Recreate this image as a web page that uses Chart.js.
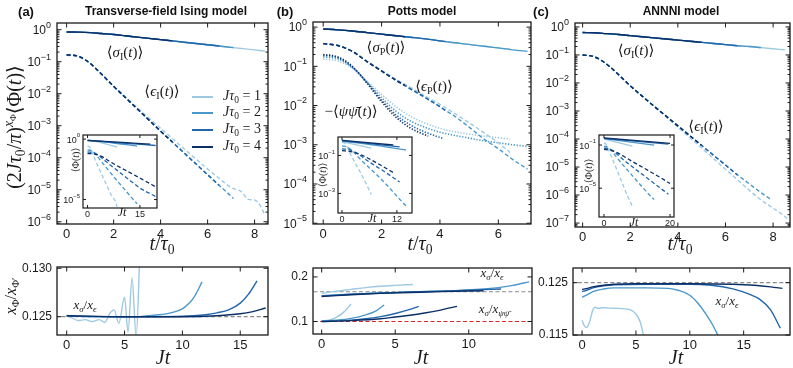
<!DOCTYPE html>
<html>
<head>
<meta charset="utf-8">
<script src="https://cdn.jsdelivr.net/npm/chart.js@4.4.1/dist/chart.umd.min.js"></script>
<style>
  body { margin: 0; background: #fff; }
  #fig { position: relative; width: 793px; height: 368px; overflow: hidden; font-family: "Liberation Sans", Arial, sans-serif; }
  .pane { position: absolute; }
  .pane canvas { display: block; }
  .tx { position: absolute; transform: translate(-50%, -50%); white-space: nowrap; font-family: "Liberation Serif", "DejaVu Serif", serif; color: #1a1a1a; line-height: 1; }
  .tx sub { font-size: 68%; vertical-align: -0.3em; }
  .tx sup { font-size: 68%; vertical-align: 0.55em; }
  .hd { position: absolute; transform: translate(-50%, -50%); white-space: nowrap; font-weight: bold; color: #111; }
  .lg { position: absolute; height: 2px; }
</style>
</head>
<body>
<div id="fig"></div>
<script>
// colours for J tau0 = 1, 2, 3, 4
const blues = ["#9ecae1", "#4a98cb", "#2166ac", "#0b2f66"];
const legendVals = [1, 2, 3, 4];

// ---------- (a) transverse-field Ising: log10 values against t/tau0 ----------
const sigA = [[0,-0.07],[0.5,-0.075],[1,-0.09],[1.5,-0.12],[2,-0.15],[2.5,-0.19],[3,-0.23],[3.5,-0.27],[4,-0.31],[4.5,-0.35],[5,-0.39],[5.5,-0.43],[6,-0.47],[6.5,-0.51],[7,-0.55],[7.1,-0.56],[7.5,-0.59],[8,-0.63],[8.45,-0.67]];
const sigEndA = [8.45, 7.1, 6.5, 4.5];
const epsA = [[0,-0.78],[0.5,-0.83],[1,-1.05],[1.5,-1.4],[2,-1.77],[2.5,-2.12],[3,-2.47],[3.5,-2.82],[4,-3.17],[4.5,-3.51],[5,-3.85],[5.5,-4.19],[6,-4.53],[6.5,-4.87],[7,-5.2],[7.1,-5.27]];
const epsEndA = [0, 7.1, 6.5, 4.5];
const epsA1 = [[0,-0.8],[0.5,-0.85],[1,-1.06],[1.5,-1.4],[2,-1.76],[2.5,-2.1],[3,-2.43],[3.5,-2.76],[4,-3.08],[4.5,-3.4],[5,-3.72],[5.5,-4.04],[6,-4.35],[6.5,-4.65],[7,-4.93],[7.45,-5.07],[7.73,-5.3],[8,-5.32],[8.2,-5.45],[8.45,-5.8]];
// inset (a): against Jt, unscaled
const sigInA = [
  [[0,-0.07],[4,-0.31],[8.45,-0.66]],
  [[0,-0.08],[7,-0.3],[14.2,-0.58]],
  [[0,-0.1],[10,-0.33],[19.5,-0.53]],
  [[0,-0.12],[10,-0.27],[18,-0.42]]
];
const epsInA = [
  [[0,-0.58],[0.5,-0.63],[1,-0.85],[1.5,-1.2],[2,-1.57],[3,-2.23],[4,-2.88],[5,-3.52],[6,-4.15],[7,-4.73],[8,-5.15],[8.45,-5.6]],
  [[0,-0.89],[1,-0.94],[2,-1.13],[3,-1.49],[4,-1.87],[6,-2.58],[8,-3.28],[10,-3.96],[12,-4.64],[14.2,-5.35]],
  [[0,-1.06],[1.5,-1.11],[3,-1.3],[4.5,-1.66],[6,-2.02],[9,-2.7],[12,-3.38],[15,-4.05],[19.5,-4.75]],
  [[0,-1.19],[2,-1.24],[4,-1.43],[6,-1.79],[8,-2.13],[12,-2.75],[16,-3.38],[19.5,-3.95]]
];
// bottom (a): exponent ratio against Jt
const ratioA = [
  [[0,0.1252],[0.4,0.1249],[1,0.1246],[1.6,0.1247],[2.2,0.1245],[2.8,0.1247],[3.3,0.1244],[3.7,0.1253],[4.1,0.1257],[4.5,0.1243],[5,0.127],[5.3,0.1234],[5.65,0.129],[6,0.1229],[6.35,0.1325]],
  [[0,0.1251],[2,0.125],[4,0.125],[6,0.125],[7,0.1251],[8,0.1252],[9,0.1254],[10,0.1258],[10.5,0.1263],[11,0.127],[11.7,0.1286]],
  [[0,0.1251],[4,0.125],[8,0.125],[11,0.1251],[12,0.1252],[13,0.1254],[14,0.1257],[15,0.1264],[15.7,0.1273],[16.45,0.1287]],
  [[0,0.1251],[5,0.125],[10,0.125],[13,0.1251],[15,0.1253],[16,0.1255],[17.2,0.1259]]
];
const refA = 0.125;

// ---------- (b) Potts ----------
const sigB = [[0,-0.05],[0.5,-0.07],[1,-0.1],[1.5,-0.14],[2,-0.18],[2.5,-0.22],[2.8,-0.245],[3,-0.26],[3.5,-0.3],[4,-0.35],[4.2,-0.37],[4.5,-0.4],[5,-0.44],[5.5,-0.49],[6,-0.53],[6.4,-0.57],[6.5,-0.58],[7,-0.62]];
const sigEndB = [6.4, 7, 4.2, 2.8];
const epsB = [[0,-0.42],[0.5,-0.47],[1,-0.62],[1.5,-0.88],[2,-1.12],[2.5,-1.36],[2.8,-1.49],[3,-1.58],[3.5,-1.8],[4,-2.03],[4.2,-2.13],[4.5,-2.27],[5,-2.55],[5.5,-2.85],[6,-3.1],[6.5,-3.38],[7,-3.62]];
const epsEndB = [0, 7, 4.2, 2.8];
const epsB1 = [[0,-0.42],[0.5,-0.47],[1,-0.62],[1.5,-0.87],[2,-1.1],[2.5,-1.33],[3,-1.54],[3.5,-1.76],[4,-1.97],[4.5,-2.2],[5,-2.44],[5.5,-2.69],[6,-2.95],[6.4,-3.2]];
const psiB = [
  [[0,-0.82],[0.5,-0.86],[1,-1.05],[1.5,-1.38],[2,-1.72],[2.5,-2.03],[3,-2.28],[3.5,-2.45],[4,-2.58],[4.5,-2.67],[5,-2.73],[5.5,-2.78],[6,-2.82],[6.4,-2.85]],
  [[0,-0.76],[0.5,-0.81],[1,-1.03],[1.5,-1.4],[2,-1.8],[2.5,-2.15],[3,-2.4],[3.5,-2.56],[4,-2.68],[4.5,-2.76],[5,-2.83],[5.5,-2.9],[6,-2.95],[6.5,-3],[7,-3.04]],
  [[0,-0.72],[0.5,-0.78],[1,-1.02],[1.5,-1.42],[2,-1.86],[2.5,-2.24],[3,-2.5],[3.5,-2.68],[4.1,-2.84]],
  [[0,-0.7],[0.5,-0.76],[1,-1],[1.5,-1.43],[2,-1.9],[2.5,-2.3],[3,-2.58],[3.6,-2.78]]
];
const sigInB = [
  [[0,-0.27],[6.4,-0.62]],
  [[0,-0.25],[7,-0.46],[14,-0.72]],
  [[0,-0.22],[12.6,-0.55]],
  [[0,-0.2],[11.2,-0.45]]
];
const epsInB = [
  [[0,-0.3],[0.5,-0.35],[1,-0.5],[2,-1],[3,-1.45],[4,-1.88],[5,-2.35],[6.4,-3.05]],
  [[0,-0.5],[1,-0.55],[2,-0.7],[4,-1.2],[6,-1.66],[8,-2.11],[10,-2.61],[12,-3.15],[14,-3.66]],
  [[0,-0.65],[1.5,-0.7],[3,-0.85],[6,-1.35],[9,-1.81],[12.6,-2.4]],
  [[0,-0.75],[2,-0.8],[4,-0.95],[8,-1.45],[11.2,-1.9]]
];
const ratioEpsB = [
  [[0,0.163],[1,0.168],[2,0.172],[3,0.176],[4,0.179],[5,0.181],[6.2,0.183]],
  [[0,0.158],[2,0.161],[4,0.164],[6,0.166],[8,0.168],[10,0.171],[12,0.176],[13,0.181],[14.1,0.189]],
  [[0,0.157],[2,0.161],[4,0.164],[6,0.166],[8,0.168],[10,0.17],[12.2,0.173]],
  [[0,0.156],[2,0.16],[4,0.163],[6,0.165],[8,0.167],[11,0.169]]
];
const ratioPsiB = [
  [[0,0.101],[0.5,0.103],[1,0.109],[1.5,0.121],[2,0.139]],
  [[0,0.101],[1,0.103],[2,0.107],[3,0.115],[3.7,0.124],[4.25,0.137]],
  [[0,0.1],[2,0.103],[3,0.106],[4,0.111],[5,0.118],[6,0.127],[6.6,0.134]],
  [[0,0.1],[2,0.102],[4,0.106],[5,0.11],[6,0.114],[7,0.119],[8,0.125],[9.2,0.134]]
];
const refEpsB = 1 / 6;
const refPsiB = 0.1;

// ---------- (c) ANNNI ----------
const sigC = [[0,-0.2],[0.5,-0.21],[1,-0.24],[1.5,-0.27],[2,-0.31],[2.5,-0.35],[3,-0.39],[3.5,-0.43],[4,-0.47],[4.5,-0.51],[5,-0.55],[5.5,-0.59],[6,-0.63],[6.5,-0.67],[7,-0.7],[7.5,-0.74],[8,-0.78],[8.5,-0.82]];
const sigEndC = [8.5, 7.5, 6.5, 5];
const epsC = [[0,-1],[0.5,-1.07],[1,-1.32],[1.5,-1.7],[2,-2.1],[2.5,-2.47],[3,-2.83],[3.5,-3.18],[4,-3.53],[4.5,-3.88],[5,-4.23],[5.5,-4.58],[6,-4.93],[6.5,-5.28],[7,-5.6],[7.5,-5.92],[7.9,-6.15]];
const epsEndC = [0, 7.9, 6.5, 5];
const epsC1 = [[0,-1],[0.5,-1.07],[1,-1.32],[1.5,-1.7],[2,-2.1],[2.5,-2.47],[3,-2.84],[3.5,-3.2],[4,-3.58],[4.5,-3.95],[5,-4.32],[5.5,-4.7],[6,-5.08],[6.5,-5.45],[7,-5.83],[7.5,-6.18],[8,-6.47],[8.4,-6.7],[8.65,-6.88]];
const sigInC = [
  [[0,-0.45],[8.6,-1.1]],
  [[0,-0.4],[15.2,-1]],
  [[0,-0.38],[19.5,-0.92]],
  [[0,-0.35],[20,-0.85]]
];
const epsInC = [
  [[0,-0.8],[0.5,-0.88],[1,-1.12],[2,-1.9],[3,-2.63],[4,-3.38],[5,-4.12],[6,-4.88],[7,-5.64],[8.5,-6.6]],
  [[0,-1.1],[1,-1.17],[2,-1.42],[4,-2.2],[6,-2.93],[8,-3.63],[10,-4.33],[12,-5.03],[14,-5.7],[15.2,-6.05]],
  [[0,-1.28],[1.5,-1.35],[3,-1.6],[6,-2.39],[9,-3.11],[12,-3.81],[15,-4.51],[19.5,-5.56]],
  [[0,-1.41],[2,-1.48],[4,-1.7],[8,-2.42],[12,-3.12],[16,-3.82],[20,-4.56]]
];
const ratioC = [
  [[0,0.1178],[0.2,0.1168],[0.4,0.1164],[0.7,0.1175],[1,0.1198],[1.2,0.1203],[1.5,0.1201],[2,0.1202],[3,0.1201],[4,0.12],[4.5,0.1198],[5,0.119],[5.4,0.1175],[5.7,0.115]],
  [[0,0.1222],[0.5,0.1227],[1,0.1233],[2,0.1238],[3,0.124],[6,0.124],[8,0.1239],[9,0.1235],[10,0.1226],[10.7,0.1212],[11.5,0.119],[12.1,0.117],[12.6,0.115]],
  [[0,0.1233],[0.5,0.1236],[1,0.124],[2,0.1244],[3,0.1246],[6,0.1247],[10,0.1247],[12,0.1245],[14,0.1238],[15.5,0.1228],[16.5,0.1218],[17.5,0.1198],[18.4,0.1163]],
  [[0,0.1237],[0.5,0.1239],[1,0.1242],[2,0.1245],[3,0.1247],[5,0.1248],[10,0.1248],[14,0.1247],[16,0.1245],[17.5,0.1242],[18.6,0.1239]]
];
const refC = 0.125;

// tick positions
const xTicksMainA = [0, 2, 4, 6, 8];
const xTicksMainB = [0, 2, 4, 6];
const xTicksMainC = [0, 2, 4, 6, 8];
const decA = [0, -1, -2, -3, -4, -5, -6];
const decB = [0, -1, -2, -3, -4, -5];
const decC = [0, -1, -2, -3, -4, -5, -6, -7];
const xTicksBotA = [0, 5, 10, 15];
const xTicksBotB = [0, 5, 10];
const xTicksBotC = [0, 5, 10, 15];
const yTicksBotA = [0.125, 0.13];
const yTicksBotB = [0.1, 0.2];
const yTicksBotC = [0.115, 0.125];

const tickFont = '"Liberation Sans Narrow", "Liberation Sans", Arial, sans-serif';
const pad = { left: 46, top: 6, right: 6, bottom: 26 };
const fig = document.getElementById("fig");

// frame, inward ticks on four sides and tick labels
const framePlugin = {
  id: "frame",
  beforeDraw(chart, args, o) {
    if (!o.bg) return;
    const a = chart.chartArea, c = chart.ctx;
    c.save();
    c.fillStyle = "#fff";
    c.fillRect(a.left, a.top, a.right - a.left, a.bottom - a.top);
    c.restore();
  },
  afterDraw(chart, args, o) {
    const a = chart.chartArea, c = chart.ctx, sx = chart.scales.x, sy = chart.scales.y;
    const L = o.tick, Lm = o.tick * 0.55;
    const yv = o.log ? o.yTicks.map(e => Math.pow(10, e)) : o.yTicks;
    c.save();
    c.strokeStyle = "#1a1a1a";
    c.lineWidth = 1;
    c.beginPath();
    o.xTicks.forEach(v => {
      const p = sx.getPixelForValue(v);
      c.moveTo(p, a.bottom); c.lineTo(p, a.bottom - L);
      c.moveTo(p, a.top); c.lineTo(p, a.top + L);
    });
    yv.forEach(v => {
      const p = sy.getPixelForValue(v);
      c.moveTo(a.left, p); c.lineTo(a.left + L, p);
      c.moveTo(a.right, p); c.lineTo(a.right - L, p);
    });
    if (o.log && o.minor) {
      for (let e = Math.floor(Math.log10(sy.min)); e < Math.log10(sy.max); e++) {
        for (let k = 2; k < 10; k++) {
          const v = k * Math.pow(10, e);
          if (v < sy.min || v > sy.max) continue;
          const p = sy.getPixelForValue(v);
          c.moveTo(a.left, p); c.lineTo(a.left + Lm, p);
          c.moveTo(a.right, p); c.lineTo(a.right - Lm, p);
        }
      }
    }
    c.stroke();
    c.lineWidth = o.lw;
    c.strokeRect(a.left, a.top, a.right - a.left, a.bottom - a.top);

    c.fillStyle = "#1a1a1a";
    c.font = o.fx + "px " + tickFont;
    c.textAlign = "center";
    c.textBaseline = "top";
    o.xTicks.forEach((v, i) => {
      const s = o.xLabels ? o.xLabels[i] : String(v);
      if (s) c.fillText(s, sx.getPixelForValue(v), a.bottom + o.gx);
    });
    c.textBaseline = "middle";
    o.yTicks.forEach((e, i) => {
      const p = sy.getPixelForValue(yv[i]);
      const xr = a.left - o.gy;
      if (o.log) {
        const ex = String(e).replace("-", "\u2212");
        const fsup = Math.round(o.fy * 0.72);
        c.font = fsup + "px " + tickFont;
        const w2 = c.measureText(ex).width;
        c.textAlign = "left";
        c.fillText(ex, xr - w2, p - o.fy * 0.38);
        c.font = o.fy + "px " + tickFont;
        c.textAlign = "right";
        c.fillText("10", xr - w2, p + 1);
      } else {
        c.font = o.fy + "px " + tickFont;
        c.textAlign = "right";
        c.fillText(e.toFixed(o.digits), xr, p);
      }
    });
    c.restore();
  }
};

function series(pts, color, style, log, width) {
  return {
    data: pts.map(p => ({ x: p[0], y: log ? Math.pow(10, p[1]) : p[1] })),
    borderColor: color,
    borderWidth: width || (style === "dot" ? 1.6 : 1.4),
    borderDash: style === "dash" ? [4, 2.5] : style === "dot" ? [1.3, 1.6] : [],
    pointRadius: 0,
    cubicInterpolationMode: "monotone",
    fill: false
  };
}

function pane(frame, cfg) {
  const [l, t, r, b] = frame;
  const box = document.createElement("div");
  box.className = "pane";
  box.style.left = (l - pad.left) + "px";
  box.style.top = (t - pad.top) + "px";
  const cv = document.createElement("canvas");
  cv.width = r - l + pad.left + pad.right;
  cv.height = b - t + pad.top + pad.bottom;
  box.appendChild(cv);
  fig.appendChild(box);
  const ymin = cfg.log ? Math.pow(10, cfg.y[0]) : cfg.y[0];
  const ymax = cfg.log ? Math.pow(10, cfg.y[1]) : cfg.y[1];
  return new Chart(cv, {
    type: "line",
    data: { datasets: cfg.sets },
    options: {
      responsive: false,
      animation: false,
      events: [],
      layout: { padding: pad },
      scales: {
        x: { type: "linear", min: cfg.x[0], max: cfg.x[1], display: false },
        y: { type: cfg.log ? "logarithmic" : "linear", min: ymin, max: ymax, display: false }
      },
      plugins: {
        legend: { display: false },
        tooltip: { enabled: false },
        frame: Object.assign({ bg: false, lw: 1.3, tick: 4.5, minor: true, fx: 13, fy: 12, gx: 4, gy: 6, digits: 3 }, cfg.axes)
      }
    },
    plugins: [framePlugin]
  });
}

// build datasets: darkest first so it is drawn on top
function mainSets(sig, sigEnd, eps, epsEnd, eps1, extra) {
  const out = [];
  for (let k = 3; k >= 0; k--) out.push(series(sig.filter(p => p[0] <= sigEnd[k]), blues[k], "solid", true));
  for (let k = 3; k >= 0; k--) out.push(series(k === 0 ? eps1 : eps.filter(p => p[0] <= epsEnd[k]), blues[k], "dash", true));
  if (extra) for (let k = 3; k >= 0; k--) out.push(series(extra[k], blues[k], "dot", true));
  return out;
}
function insetSets(sig, eps) {
  const out = [];
  for (let k = 3; k >= 0; k--) out.push(series(sig[k], blues[k], "solid", true, 1.3));
  for (let k = 3; k >= 0; k--) out.push(series(eps[k], blues[k], "dash", true, 1.3));
  return out;
}
function refLine(v, x0, x1, color) {
  return series([[x0, v], [x1, v]], color, "dash", false, 1.2);
}
function ratioSets(groups, refs) {
  const out = [];
  groups.forEach(g => { for (let k = 3; k >= 0; k--) out.push(series(g[k], blues[k], "solid", false, 1.4)); });
  return out.concat(refs);
}

// main panels
pane([57, 23, 268, 224], { x: [-0.41, 8.57], y: [-6.07, 0.21], log: true,
  sets: mainSets(sigA, sigEndA, epsA, epsEndA, epsA1),
  axes: { xTicks: xTicksMainA, yTicks: decA, log: true } });
pane([313, 22, 531, 224], { x: [-0.35, 7.12], y: [-5.02, 0.13], log: true,
  sets: mainSets(sigB, sigEndB, epsB, epsEndB, epsB1, psiB),
  axes: { xTicks: xTicksMainB, yTicks: decB, log: true } });
pane([575, 23, 790, 227], { x: [-0.32, 8.71], y: [-7.14, 0.14], log: true,
  sets: mainSets(sigC, sigEndC, epsC, epsEndC, epsC1),
  axes: { xTicks: xTicksMainC, yTicks: decC, log: true } });

// insets
const insetAxes = { bg: true, lw: 1.2, tick: 3, minor: false, fx: 9, fy: 9, gx: 2, gy: 3 };
pane([83, 135, 157, 208], { x: [-1.3, 19.9], y: [-5.7, 0.34], log: true,
  sets: insetSets(sigInA, epsInA),
  axes: Object.assign({}, insetAxes, { xTicks: [0, 15], yTicks: [0, -5], log: true }) });
pane([338, 137, 412, 213], { x: [-0.87, 15.3], y: [-4.03, -0.03], log: true,
  sets: insetSets(sigInB, epsInB),
  axes: Object.assign({}, insetAxes, { xTicks: [0, 12], yTicks: [-1, -3], log: true }) });
pane([599, 135, 674, 217], { x: [-1.5, 21.2], y: [-7.67, -0.07], log: true,
  sets: insetSets(sigInC, epsInC),
  axes: Object.assign({}, insetAxes, { xTicks: [0, 20], yTicks: [-1, -5], log: true }) });

// bottom panels
const botAxes = { tick: 4.5, minor: false, fx: 13, fy: 12, gx: 4, gy: 5 };
pane([57, 267, 268, 335], { x: [-0.84, 17.4], y: [0.12311, 0.13013], log: false,
  sets: ratioSets([ratioA], [refLine(refA, -1, 20, "#8a8a8a")]),
  axes: Object.assign({}, botAxes, { xTicks: xTicksBotA, yTicks: yTicksBotA, digits: 3 }) });
pane([313, 268, 532, 334], { x: [-0.59, 14.3], y: [0.0719, 0.22], log: false,
  sets: ratioSets([ratioEpsB, ratioPsiB], [refLine(refEpsB, -1, 20, "#8a8a8a"), refLine(refPsiB, -1, 20, "#d62728")]),
  axes: Object.assign({}, botAxes, { xTicks: xTicksBotB, yTicks: yTicksBotB, digits: 1 }) });
pane([573, 268, 790, 335], { x: [-0.84, 19.3], y: [0.115, 0.1278], log: false,
  sets: ratioSets([ratioC], [refLine(refC, -1, 20, "#8a8a8a")]),
  axes: Object.assign({}, botAxes, { xTicks: xTicksBotC, yTicks: yTicksBotC, digits: 3 }) });

// ---------- text ----------
function tx(html, x, y, size, rot) {
  const d = document.createElement("div");
  d.className = "tx";
  d.innerHTML = html;
  d.style.left = x + "px";
  d.style.top = y + "px";
  d.style.fontSize = size + "px";
  if (rot) d.style.transform = "translate(-50%, -50%) rotate(-90deg)";
  fig.appendChild(d);
}
function hd(text, x, y, size) {
  const d = document.createElement("div");
  d.className = "hd";
  d.textContent = text;
  d.style.left = x + "px";
  d.style.top = y + "px";
  d.style.fontSize = size + "px";
  fig.appendChild(d);
}

hd("(a)", 26, 11, 13); hd("Transverse-field Ising model", 166, 11, 12);
hd("(b)", 285, 11, 13); hd("Potts model", 422, 11, 12);
hd("(c)", 541, 11, 13); hd("ANNNI model", 681, 11, 12);

tx("(2<i>J&tau;</i><sub>0</sub>/<i>&pi;</i>)<sup><i>x</i><sub>&Phi;</sub></sup>&lang;&Phi;(<i>t</i>)&rang;", 15, 127, 20, true);
tx("<i>x</i><sub>&Phi;</sub>/<i>x</i><sub>&Phi;&prime;</sub>", 12, 296, 16, true);
[162, 420, 680].forEach(x => tx("<i>t</i>/<i>&tau;</i><sub>0</sub>", x, 245, 20));
[163, 421, 676].forEach(x => tx("<i>Jt</i>", x, 357, 20));

tx("&lang;<i>&sigma;</i><sub>I</sub>(<i>t</i>)&rang;", 125, 54, 15);
tx("&lang;<i>&#x3f5;</i><sub>I</sub>(<i>t</i>)&rang;", 162, 93, 15);
tx("&lang;<i>&sigma;</i><sub>P</sub>(<i>t</i>)&rang;", 386, 49, 15);
tx("&lang;<i>&#x3f5;</i><sub>P</sub>(<i>t</i>)&rang;", 434, 88, 15);
tx("&minus;&lang;<i>&psi;&psi;&#x304;</i>(<i>t</i>)&rang;", 351, 111, 15);
tx("&lang;<i>&sigma;</i><sub>I</sub>(<i>t</i>)&rang;", 636, 52, 15);
tx("&lang;<i>&#x3f5;</i><sub>I</sub>(<i>t</i>)&rang;", 706, 128, 15);

tx("<i>x</i><sub><i>&sigma;</i></sub>/<i>x</i><sub><i>&#x3f5;</i></sub>", 85, 306, 13);
tx("<i>x</i><sub><i>&sigma;</i></sub>/<i>x</i><sub><i>&#x3f5;</i></sub>", 492, 274, 13);
tx("<i>x</i><sub><i>&sigma;</i></sub>/<i>x</i><sub><i>&psi;&psi;&#x304;</i></sub>", 494, 310, 13);
tx("<i>x</i><sub><i>&sigma;</i></sub>/<i>x</i><sub><i>&#x3f5;</i></sub>", 727, 302, 13);

// inset axis titles
[[76, 160], [323, 175], [589, 171]].forEach(p => tx("&lang;&Phi;(<i>t</i>)&rang;", p[0], p[1], 10, true));
[[122, 212], [372, 218], [634, 222]].forEach(p => tx("<i>Jt</i>", p[0], p[1], 12));

// legend of panel (a)
const rows = [96.7, 113.3, 130, 146.7];
legendVals.forEach((v, i) => {
  const ln = document.createElement("div");
  ln.className = "lg";
  ln.style.left = "192px"; ln.style.width = "21px";
  ln.style.top = (rows[i] - 1) + "px";
  ln.style.background = blues[i];
  fig.appendChild(ln);
  const d = document.createElement("div");
  d.className = "tx";
  d.style.transform = "translate(0, -50%)";
  d.style.left = "223px"; d.style.top = rows[i] + "px"; d.style.fontSize = "14px";
  d.innerHTML = "<i>J&tau;</i><sub>0</sub> = " + v;
  fig.appendChild(d);
});
</script>
</body>
</html>
